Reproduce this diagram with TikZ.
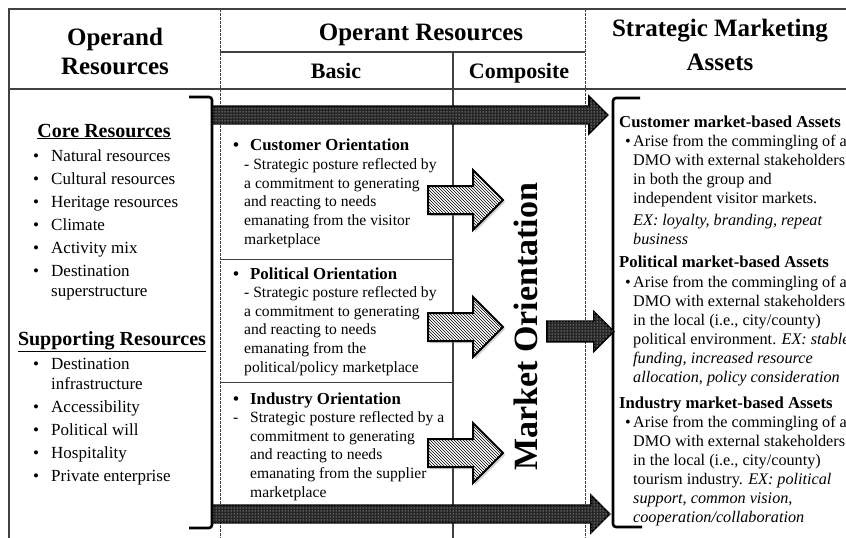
\documentclass[tikz,border=0pt]{standalone}
\usepackage{fontspec}
\setmainfont{Liberation Serif}
\usetikzlibrary{shapes.arrows,patterns,shadows}

% bullet and hanging indent for the lists
\newcommand{\bul}[1][18pt]{\makebox[#1][l]{\textbullet}}
\newcommand{\ind}[1][18pt]{\hspace*{#1}}

\tikzset{
  rule/.style={draw=black!75, line width=1.2pt},
  sep/.style={draw=black!75, line width=0.9pt, dash pattern=on 2.5pt off 1.5pt},
  bracket/.style={line width=2.6pt, rounded corners=3pt},
  flow/.style={single arrow, draw=black, line width=1.6pt, fill=black!85,
    postaction={pattern=dots, pattern color=white!80}, inner xsep=0pt, anchor=tail},
  push/.style={single arrow, draw=black, line width=2pt, fill=white,
    postaction={pattern=north west lines}, inner xsep=0pt, inner ysep=13pt,
    single arrow head extend=16pt, minimum height=75pt, anchor=tail,
    drop shadow={shadow xshift=2pt, shadow yshift=-2pt, opacity=0.35}},
  head/.style={anchor=base, align=center, font=\fontsize{25}{29}\selectfont\bfseries},
  sub/.style={anchor=base, font=\fontsize{22}{26}\selectfont\bfseries},
  % multi-line texts sit on the baseline of their last line
  txt/.style={anchor=base west, align=left, inner sep=0pt},
  list/.style={txt, font=\fontsize{17}{20}\selectfont},
  orient/.style={txt, font=\fontsize{16.8}{20}\selectfont\bfseries},
  body/.style={txt, font=\fontsize{15.6}{18.6}\selectfont},
  asset/.style={txt, font=\fontsize{16.7}{20}\selectfont\bfseries},
  note/.style={txt, font=\fontsize{16.2}{19}\selectfont},
}

\begin{document}
\begin{tikzpicture}[x=1pt,y=-1pt]
\clip (0,0) rectangle (846,538);
\fill[white] (0,0) rectangle (846,538);

% table rules
\draw[rule] (9,538) -- (9,9) -- (846,9);
\draw[rule] (9,89) -- (846,89);
\draw[rule] (220,52) -- (585,52);
\draw[rule] (453,52) -- (453,538);
\draw[rule, line width=0.9pt] (220,259) -- (453,259);
\draw[rule, line width=0.9pt] (220,382) -- (453,382);
\draw[sep] (220,9) -- (220,538);
\draw[sep] (585,9) -- (585,538);

% column heads
\node[head] (operand) at (115,74) {Operand\\Resources};
\node[head] (operant) at (421,40) {Operant Resources};
\node[sub] (basic) at (336,78) {Basic};
\node[sub] (composite) at (519,78) {Composite};
\node[head, font=\fontsize{25}{34}\selectfont\bfseries] (assets) at (720,70) {Strategic Marketing\\Assets};

% brackets
\draw[bracket] (189,97) -- (212,97) -- (212,528) -- (189,528);
\draw[bracket] (640,98) -- (613,98) -- (613,527) -- (642,527);

% block arrows
\node[flow, inner ysep=8pt, single arrow head extend=10pt, minimum height=395pt] (topflow) at (212,115) {};
\node[flow, inner ysep=8pt, single arrow head extend=10pt, minimum height=397pt] (botflow) at (212,514) {};
\node[flow, inner ysep=9.5pt, single arrow head extend=9.5pt, minimum height=67pt] (midflow) at (546,331.5) {};
\node[push] (custpush) at (427,200) {};
\node[push] (polpush) at (427,327) {};
\node[push] (indpush) at (427,453) {};

% operand resources
\node[txt, anchor=base, font=\fontsize{20}{24}\selectfont\bfseries] (core) at (104,137) {\underline{Core Resources}};
\node[list] (corelist) at (33,296) {\bul Natural resources\\[3pt]\bul Cultural resources\\[3pt]\bul Heritage resources\\[3pt]\bul Climate\\[3pt]\bul Activity mix\\[3pt]\bul Destination\\\ind superstructure};
\node[txt, anchor=base, font=\fontsize{20}{24}\selectfont\bfseries] (supp) at (112,345) {\underline{Supporting Resources}};
\node[list] (supplist) at (33,481) {\bul Destination\\\ind infrastructure\\[3pt]\bul Accessibility\\[3pt]\bul Political will\\[3pt]\bul Hospitality\\[3pt]\bul Private enterprise};

% basic operant resources
\node[orient] (cust) at (233,150) {\bul[17pt]Customer Orientation};
\node[body] (custtxt) at (244,244) {- Strategic posture reflected by\\a commitment to generating\\and reacting to needs\\emanating from the visitor\\marketplace};
\node[orient] (pol) at (233,279) {\bul[17pt]Political Orientation};
\node[body] (poltxt) at (244,372) {- Strategic posture reflected by\\a commitment to generating\\and reacting to needs\\emanating from the\\political/policy marketplace};
\node[orient] (ind) at (233,404) {\bul[17pt]Industry Orientation};
\node[body] (indtxt) at (233,497) {\makebox[17pt][l]{-}Strategic posture reflected by a\\\ind[17pt]commitment to generating\\\ind[17pt]and reacting to needs\\\ind[17pt]emanating from the supplier\\\ind[17pt]marketplace};

% composite operant resource
\node[rotate=90, anchor=base, font=\fontsize{34}{40}\selectfont\bfseries] (market) at (537,327) {Market Orientation};

% strategic marketing assets
\node[asset] (custasset) at (619,127) {Customer market-based Assets};
\node[note] (custnote) at (625,244) {\bul[8pt]Arise from the commingling of a\\\ind[8pt]DMO with external stakeholders\\\ind[8pt]in both the group and\\\ind[8pt]independent visitor markets.\\[3pt]\ind[8pt]\textit{EX: loyalty, branding, repeat}\\\ind[8pt]\textit{business}};
\node[asset] (polasset) at (619,267) {Political market-based Assets};
\node[note] (polnote) at (625,382) {\bul[8pt]Arise from the commingling of a\\\ind[8pt]DMO with external stakeholders\\\ind[8pt]in the local (i.e., city/county)\\\ind[8pt]political environment. \textit{EX: stable}\\\ind[8pt]\textit{funding, increased resource}\\\ind[8pt]\textit{allocation, policy consideration}};
\node[asset] (indasset) at (619,408) {Industry market-based Assets};
\node[note] (indnote) at (625,522) {\bul[8pt]Arise from the commingling of a\\\ind[8pt]DMO with external stakeholders\\\ind[8pt]in the local (i.e., city/county)\\\ind[8pt]tourism industry. \textit{EX: political}\\\ind[8pt]\textit{support, common vision,}\\\ind[8pt]\textit{cooperation/collaboration}};
\end{tikzpicture}
\end{document}
